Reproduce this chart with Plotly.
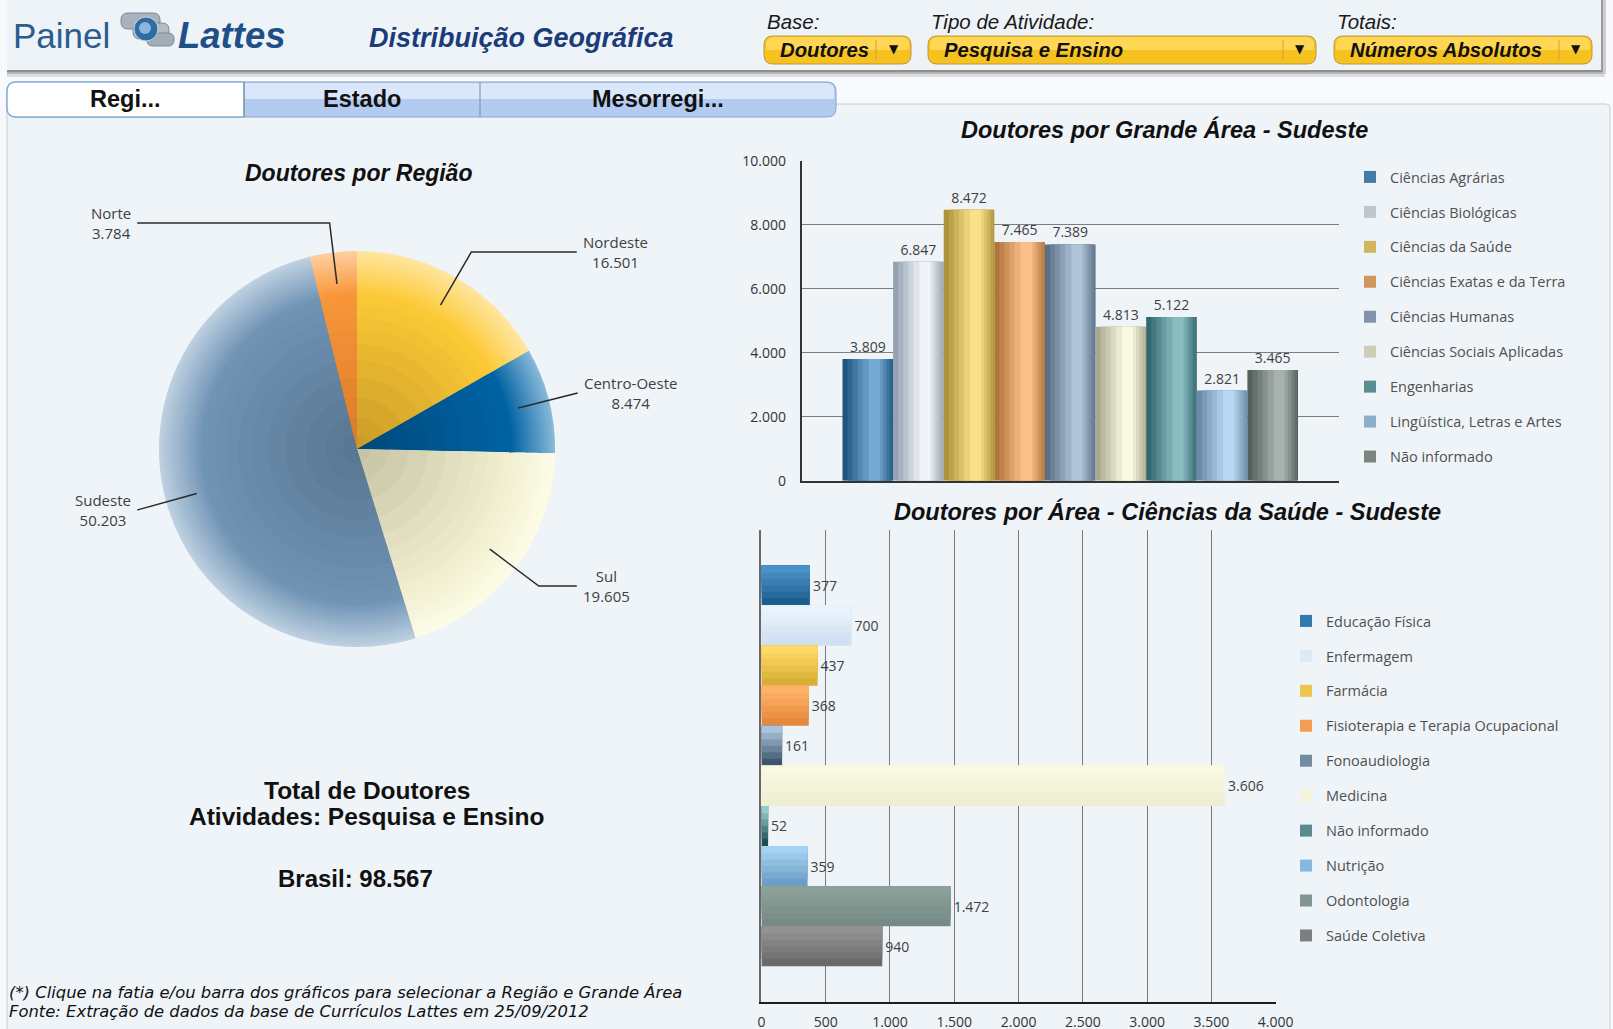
import math
import plotly.graph_objects as go

# ---------------- data ----------------
regioes = ["Nordeste", "Centro-Oeste", "Sul", "Sudeste", "Norte"]
doutores_regiao = [16501, 8474, 19605, 50203, 3784]

grandes_areas = ["Ciências Agrárias", "Ciências Biológicas", "Ciências da Saúde",
                 "Ciências Exatas e da Terra", "Ciências Humanas", "Ciências Sociais Aplicadas",
                 "Engenharias", "Lingüística, Letras e Artes", "Não informado"]
doutores_grande_area = [3809, 6847, 8472, 7465, 7389, 4813, 5122, 2821, 3465]

areas_saude = ["Educação Física", "Enfermagem", "Farmácia", "Fisioterapia e Terapia Ocupacional",
               "Fonoaudiologia", "Medicina", "Não informado", "Nutrição", "Odontologia",
               "Saúde Coletiva"]
doutores_area_saude = [377, 700, 437, 368, 161, 3606, 52, 359, 1472, 940]

ticks_grande_area = [0, 2000, 4000, 6000, 8000, 10000]
ticks_area_saude = [0, 500, 1000, 1500, 2000, 2500, 3000, 3500, 4000]

# ---------------- colours ----------------
pie_in = ["#C99A28", "#00487A", "#C4C2A2", "#587590", "#DA7A2A"]
pie_mid = ["#FCCA36", "#0062A3", "#F2F0D0", "#7094B5", "#F8963A"]
pie_out = ["#FFE6A0", "#8ABAD9", "#FDFCE8", "#BFD1E1", "#FFCFA0"]

ga_dark = ["#1E5680", "#95A3B0", "#AD933A", "#B0743C", "#5A7088", "#A9AA90", "#336870", "#6A8CAA", "#53625C"]
ga_light = ["#74A9D2", "#F0F4F8", "#FAE08A", "#FBC088", "#AFC3D6", "#FAF9E2", "#8BBDBF", "#B9D7F2", "#A8B2AD"]

as_bottom = ["#1C5D90", "#CFE0F2", "#D9AE34", "#E4893A", "#3D566C", "#EFEED2", "#1F4E50", "#6C9EC6", "#768B86", "#6A6A6A"]
as_top = ["#4A92CA", "#EAF3FC", "#FFDA68", "#FFB36A", "#AAC2DA", "#F9F9E2", "#96CACA", "#A6D2F2", "#8CA09A", "#929292"]

FONT_UI = "Open Sans"
FONT_T = "Liberation Sans"

# ---------------- page geometry ----------------
W, H = 1613, 1029


def X(x):
    return x / W


def Y(y):
    return 1 - y / H


def hex2rgb(h):
    h = h.lstrip("#")
    return [int(h[i:i + 2], 16) for i in (0, 2, 4)]


def lerp(c1, c2, t):
    a, b = hex2rgb(c1), hex2rgb(c2)
    return "rgb(%d,%d,%d)" % tuple(round(a[k] + (b[k] - a[k]) * t) for k in range(3))


def fmt(v):
    return f"{v:,}".replace(",", ".")


def rrect(x0, y0, x1, y1, r=(6, 6, 6, 6)):
    tl, tr, br, bl = r
    return (f"M {X(x0 + tl)},{Y(y0)} L {X(x1 - tr)},{Y(y0)} Q {X(x1)},{Y(y0)} {X(x1)},{Y(y0 + tr)} "
            f"L {X(x1)},{Y(y1 - br)} Q {X(x1)},{Y(y1)} {X(x1 - br)},{Y(y1)} "
            f"L {X(x0 + bl)},{Y(y1)} Q {X(x0)},{Y(y1)} {X(x0)},{Y(y1 - bl)} "
            f"L {X(x0)},{Y(y0 + tl)} Q {X(x0)},{Y(y0)} {X(x0 + tl)},{Y(y0)} Z")


shapes = []
annotations = []


def box(x0, y0, x1, y1, fill, line=None, lw=1, layer="below"):
    shapes.append(dict(type="rect", xref="paper", yref="paper", x0=X(x0), x1=X(x1), y0=Y(y1), y1=Y(y0),
                       fillcolor=fill, line=dict(width=lw if line else 0, color=line or fill), layer=layer))


def pathshape(path, fill, line=None, lw=1, layer="below"):
    shapes.append(dict(type="path", xref="paper", yref="paper", path=path, fillcolor=fill,
                       line=dict(width=lw if line else 0, color=line or fill), layer=layer))


def seg(pts, color="#2A2A2A", lw=1.5, layer="above"):
    p = "M " + " L ".join(f"{X(a)},{Y(b)}" for a, b in pts)
    shapes.append(dict(type="path", xref="paper", yref="paper", path=p,
                       line=dict(width=lw, color=color), layer=layer))


def text(t, x, y, size, family=FONT_T, color="#111111", weight="normal", style="normal",
         xanchor="center", yanchor="middle", align="center"):
    annotations.append(dict(text=t, x=X(x), y=Y(y), xref="paper", yref="paper", showarrow=False,
                            xanchor=xanchor, yanchor=yanchor, align=align,
                            font=dict(family=family, size=size, color=color, weight=weight, style=style)))


# ---------------- page chrome ----------------
box(0, 70, 1613, 104, "#F8FAFD")
pathshape(rrect(7, 104, 1610, 1040, (4, 4, 0, 0)), "#EFF4F9", "#C3CDD8", 1)
# header panel + shadow
box(7, 0, 1601, 70, "#EEF3F8")
box(7, 70, 1603, 72, "#8E8E8E")
box(7, 72, 1604, 74, "#B5B5B5")
box(7, 74, 1605, 77, "#DCDCDC")
box(1601, 0, 1603, 72, "#9A9A9A")
box(1603, 0, 1606, 74, "#CFCFCF")

# logo icon
pathshape(rrect(121, 13, 160, 29, (7, 7, 7, 7)), "#A9B3BD", "#7E8995", 1)
pathshape(rrect(133, 23, 169, 39, (7, 7, 7, 7)), "#B4BDC6", "#7E8995", 1)
pathshape(rrect(147, 33, 174, 46, (6, 6, 6, 6)), "#A3ADB8", "#7E8995", 1)
shapes.append(dict(type="circle", xref="paper", yref="paper", x0=X(134), x1=X(158), y0=Y(41), y1=Y(17),
                   fillcolor="#2F6CA5", line=dict(width=1, color="#C8D6E4"), layer="below"))
shapes.append(dict(type="circle", xref="paper", yref="paper", x0=X(139), x1=X(151), y0=Y(34), y1=Y(22),
                   fillcolor="#8DB6DC", line=dict(width=0), layer="below"))

text("Painel", 11, 36, 35, color="#2B5C8E", xanchor="left")
text("Lattes", 176, 36, 36.5, color="#1F4F88", weight="bold", style="italic", xanchor="left")
text("Distribuição Geográfica", 367, 38, 27, color="#1B3C78", weight="bold", style="italic", xanchor="left")

dropdowns = [
    (764, 911, 876, "Base:", "Doutores"),
    (928, 1316, 1283, "Tipo de Atividade:", "Pesquisa e Ensino"),
    (1334, 1592, 1559, "Totais:", "Números Absolutos"),
]
for x0, x1, sx, lab, val in dropdowns:
    text(lab, x0 + 1, 21, 20.5, color="#1A1A1A", style="italic", xanchor="left")
    pathshape(rrect(x0, 36, x1, 64, (9, 9, 9, 9)), "#F6C21F", "#BE9A3A", 1)
    pathshape(rrect(x0 + 2, 37, x1 - 2, 50, (8, 8, 2, 2)), "#FFD754")
    seg([(sx, 40), (sx, 60)], color="#C9A445", lw=1, layer="below")
    text(val, x0 + 14, 50, 20.3, color="#111111", weight="bold", style="italic", xanchor="left")
    text("▼", (sx + x1) / 2, 49, 12, family="DejaVu Sans", color="#111111")

# tabs
pathshape(rrect(7, 82, 836, 117, (9, 9, 9, 9)), "#B3CBF0", "#8CA4C8", 1)
pathshape(rrect(9, 83, 834, 99, (8, 8, 0, 0)), "#DAE6F9")
pathshape(rrect(7, 82, 244, 117, (9, 0, 0, 9)), "#FFFFFF", "#86AEDC", 1.5)
seg([(244, 82), (244, 117)], color="#7C8CA0", lw=1, layer="below")
seg([(480, 82), (480, 117)], color="#7C8CA0", lw=1, layer="below")
text("Regi...", 125, 99, 23.5, color="#111111", weight="bold")
text("Estado", 362, 99, 23.5, color="#111111", weight="bold")
text("Mesorregi...", 658, 99, 23.5, color="#111111", weight="bold")

# ---------------- pie (radial shading via concentric layers) ----------------
PCX, PCY, PR = 357, 449, 198
radii = [1.0 - 0.0125 * k for k in range(24)] + [0.66, 0.6, 0.53, 0.45, 0.36, 0.26, 0.16, 0.07]

fig = go.Figure()


def pie_color(i, t):
    if t < 0.78:
        return lerp(pie_in[i], pie_mid[i], t / 0.78)
    return lerp(pie_mid[i], pie_out[i], min(1.0, (t - 0.78) / 0.22))


for k, rf in enumerate(radii):
    nxt = radii[k + 1] if k + 1 < len(radii) else 0.0
    t = (rf + nxt) / 2
    r = PR * rf
    fig.add_trace(go.Pie(
        labels=regioes, values=doutores_regiao, sort=False, direction="clockwise", rotation=0,
        domain=dict(x=[X(PCX - r), X(PCX + r)], y=[Y(PCY + r), Y(PCY - r)]),
        marker=dict(colors=[pie_color(i, t) for i in range(len(regioes))], line=dict(width=0)),
        textinfo="none", hoverinfo="label+value", showlegend=False))

total = sum(doutores_regiao)
cum = 0
for name, v in zip(regioes, doutores_regiao):
    a = (cum + v / 2) / total * 2 * math.pi
    cum += v
    s, c = math.sin(a), math.cos(a)
    p0 = (PCX + 0.84 * PR * s, PCY - 0.84 * PR * c)
    p1 = (PCX + 1.15 * PR * s, PCY - 1.15 * PR * c)
    side = 1 if s > 0 else -1
    ex = PCX + side * 1.11 * PR
    pts = [p0, p1]
    if side * (ex - p1[0]) > 0:
        pts.append((ex, p1[1]))
    seg(pts)
    lx = pts[-1][0] + side * 4
    text(f"{name}<br>{fmt(v)}", lx, p1[1], 15, family=FONT_UI, color="#404040",
         xanchor="left" if side > 0 else "right", align="center")

text("Doutores por Região", 358, 173, 23, weight="bold", style="italic")
text("Total de Doutores", 367, 790, 24.5, weight="bold")
text("Atividades: Pesquisa e Ensino", 366, 816, 24.5, weight="bold")
text(f"Brasil: {fmt(total)}", 355, 878, 24, weight="bold")
text("(*) Clique na fatia e/ou barra dos gráficos para selecionar a Região e Grande Área", 7, 992, 16.4,
     family="DejaVu Sans", style="italic", xanchor="left")
text("Fonte: Extração de dados da base de Currículos Lattes em 25/09/2012", 7, 1011.5, 16.4,
     family="DejaVu Sans", style="italic", xanchor="left")

# ---------------- chart 1: grande área ----------------
text("Doutores por Grande Área - Sudeste", 1164, 129, 23.5, weight="bold", style="italic")
pos1 = list(range(len(grandes_areas)))
for i, (name, v) in enumerate(zip(grandes_areas, doutores_grande_area)):
    fig.add_trace(go.Bar(x=[pos1[i]], y=[v], width=[1.0], xaxis="x", yaxis="y",
                         marker=dict(color=ga_dark[i], line=dict(width=0)),
                         texttemplate="%{y:,}", textposition="outside", cliponaxis=False,
                         textfont=dict(family=FONT_UI, size=14, color="#404040"),
                         showlegend=False, hoverinfo="x+y", name=name))
for off, wd, t in [(-0.4, 0.88, 0.2), (-0.3, 0.72, 0.4), (-0.2, 0.56, 0.6), (-0.1, 0.4, 0.8), (0.02, 0.22, 1.0)]:
    fig.add_trace(go.Bar(x=pos1, y=doutores_grande_area, width=[wd] * len(pos1), offset=[off] * len(pos1),
                         xaxis="x", yaxis="y", showlegend=False, hoverinfo="skip",
                         marker=dict(color=[lerp(ga_dark[i], ga_light[i], t) for i in pos1],
                                     line=dict(width=0))))
for i, name in enumerate(grandes_areas):
    fig.add_trace(go.Bar(x=[None], y=[None], xaxis="x", yaxis="y", name=name, legend="legend",
                         legendgroup=f"ga{i}", marker=dict(color=lerp(ga_dark[i], ga_light[i], 0.45),
                                                          line=dict(width=0))))

# ---------------- chart 2: áreas saúde ----------------
text("Doutores por Área - Ciências da Saúde - Sudeste", 1167, 512, 23.5, weight="bold", style="italic")
pos2 = list(range(len(areas_saude)))
for i, (name, v) in enumerate(zip(areas_saude, doutores_area_saude)):
    fig.add_trace(go.Bar(x=[v], y=[pos2[i]], width=[1.0], orientation="h", xaxis="x2", yaxis="y2",
                         marker=dict(color=as_bottom[i], line=dict(width=0)),
                         texttemplate="%{x:,}", textposition="outside", cliponaxis=False,
                         constraintext="none",
                         textfont=dict(family=FONT_UI, size=14, color="#404040"),
                         showlegend=False, hoverinfo="x+y", name=name))
for wd, t in [(0.82, 0.22), (0.66, 0.42), (0.5, 0.62), (0.34, 0.82), (0.18, 1.0)]:
    fig.add_trace(go.Bar(x=doutores_area_saude, y=pos2, width=[wd] * len(pos2), offset=[-0.5] * len(pos2),
                         orientation="h", xaxis="x2", yaxis="y2", showlegend=False, hoverinfo="skip",
                         marker=dict(color=[lerp(as_bottom[i], as_top[i], t) for i in pos2],
                                     line=dict(width=0))))
for i, name in enumerate(areas_saude):
    fig.add_trace(go.Bar(x=[None], y=[None], orientation="h", xaxis="x2", yaxis="y2", name=name,
                         legend="legend2", legendgroup=f"as{i}",
                         marker=dict(color=lerp(as_bottom[i], as_top[i], 0.5), line=dict(width=0))))

n1 = len(grandes_areas)
n2 = len(areas_saude)
pad1 = 0.81
pad2 = 0.886
legend_font = dict(family=FONT_UI, size=14.5, color="#505050")

fig.update_layout(
    width=W, height=H, margin=dict(l=0, r=0, t=0, b=0, autoexpand=False),
    paper_bgcolor="#F6F8FB", plot_bgcolor="rgba(0,0,0,0)",
    separators=",.", barmode="overlay",
    font=dict(family=FONT_UI, size=14, color="#333333"),
    shapes=shapes, annotations=annotations,
    xaxis=dict(domain=[X(801.5), X(1339)], range=[-0.5 - pad1, n1 - 0.5 + pad1], anchor="y",
               showticklabels=False, showgrid=False, zeroline=False, showline=True,
               linecolor="#333333", linewidth=1.5, fixedrange=True),
    yaxis=dict(domain=[Y(480.7), Y(161)], range=[0, 10000], anchor="x", tickvals=ticks_grande_area,
               tickformat=",d", showgrid=True, gridcolor="#7E7E7E", gridwidth=1, zeroline=False,
               showline=True, linecolor="#333333", linewidth=1.5, ticks="", ticklabelstandoff=11,
               tickfont=dict(family=FONT_UI, size=14, color="#333333"), fixedrange=True),
    xaxis2=dict(domain=[X(761.4), X(1275.7)], range=[0, 4000], anchor="y2", tickvals=ticks_area_saude,
                tickformat=",d", showgrid=True, gridcolor="#7A7A7A", gridwidth=1, zeroline=False,
                showline=True, linecolor="#1E1E1E", linewidth=2, ticks="", ticklabelstandoff=6,
                tickfont=dict(family=FONT_UI, size=14, color="#333333"), fixedrange=True),
    yaxis2=dict(domain=[Y(1001.7), Y(530)], range=[n2 - 0.5 + pad2, -0.5 - pad2], anchor="x2",
                showticklabels=False, showgrid=False, zeroline=False, showline=True,
                linecolor="#6A6A6A", linewidth=1.5, fixedrange=True),
    legend=dict(x=X(1350), y=Y(161), xanchor="left", yanchor="top", bgcolor="rgba(0,0,0,0)",
                font=legend_font, tracegroupgap=13.1, traceorder="grouped", itemclick=False,
                itemdoubleclick=False),
    legend2=dict(x=X(1286), y=Y(605), xanchor="left", yanchor="top", bgcolor="rgba(0,0,0,0)",
                 font=legend_font, tracegroupgap=13.1, traceorder="grouped", itemclick=False,
                 itemdoubleclick=False),
    showlegend=True,
)

fig.write_html("out.html", config={"displayModeBar": False},
               post_script="document.body.style.margin='0';document.body.style.overflow='hidden';")
